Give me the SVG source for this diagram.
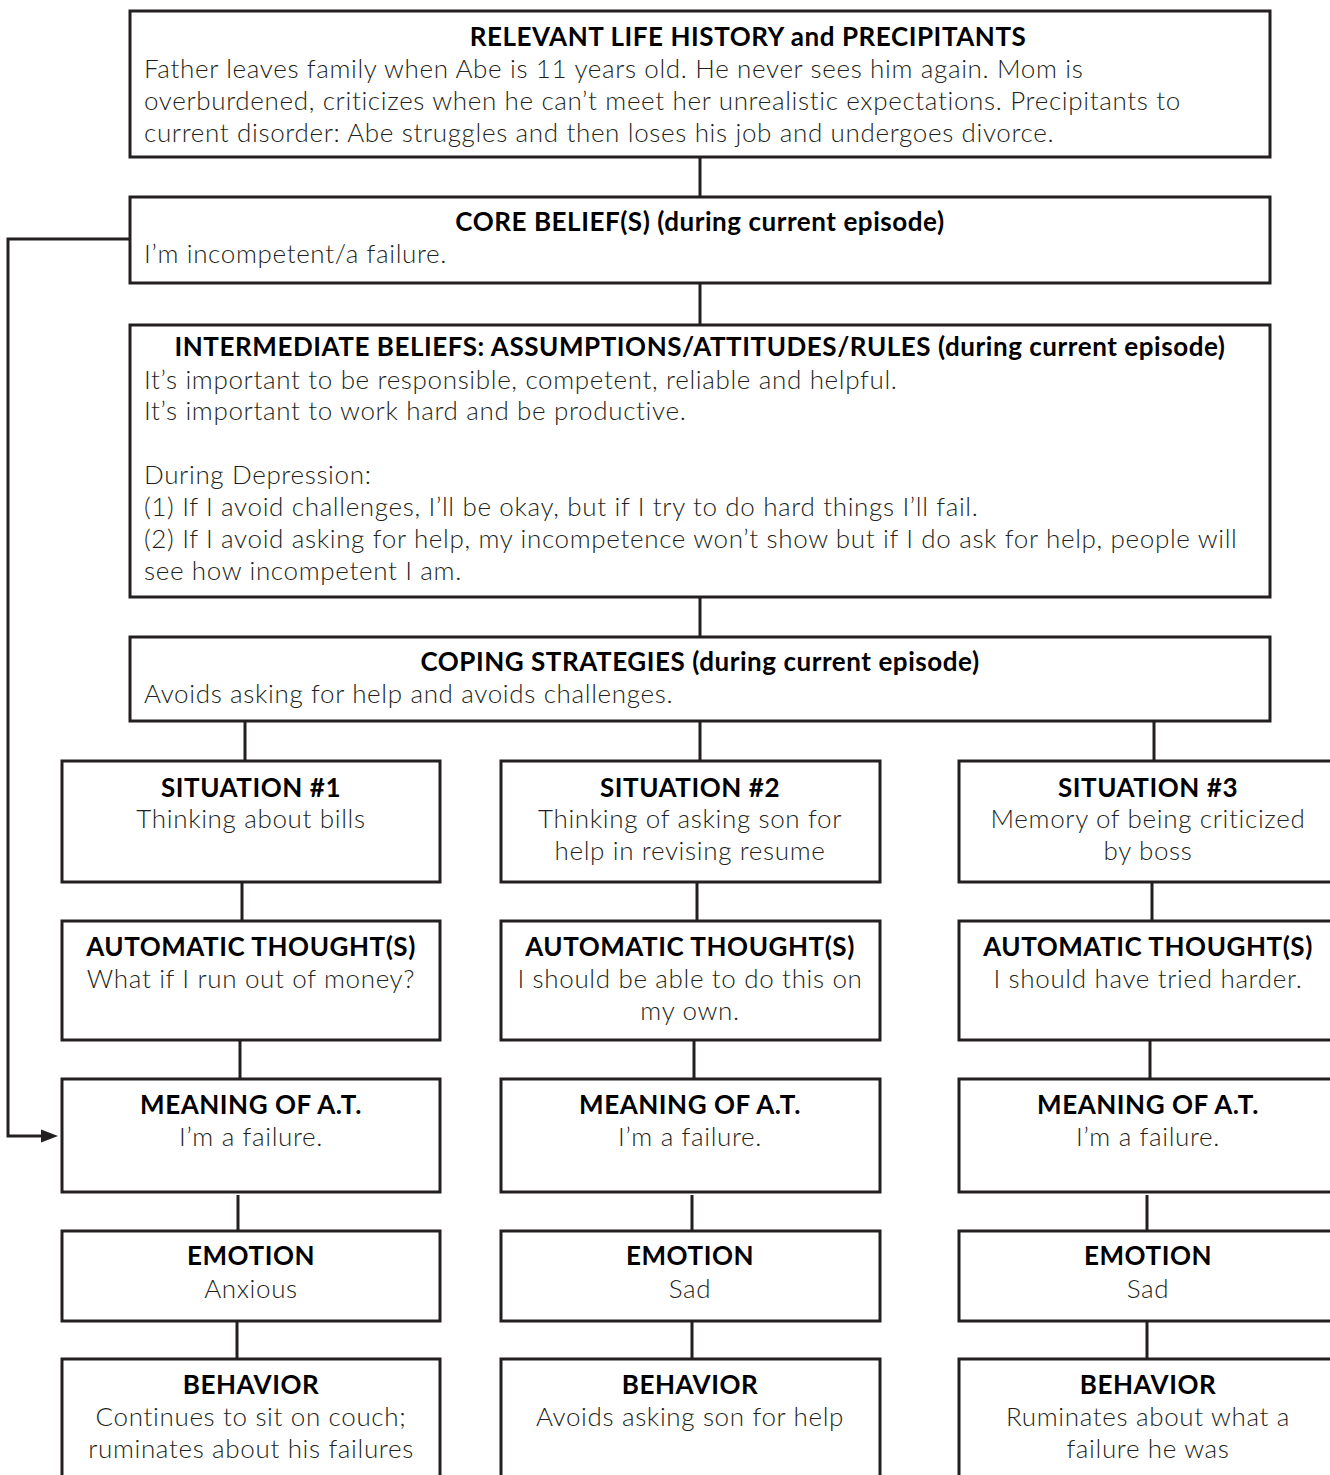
<svg xmlns="http://www.w3.org/2000/svg" width="1330" height="1475" viewBox="0 0 1330 1475">
<style>
.box{fill:#fff;stroke:#231f20;stroke-width:3}
.ln{fill:none;stroke:#231f20;stroke-width:3}
.t{font-family:Lato,"Open Sans","Liberation Sans",sans-serif;font-size:26px;font-weight:700;letter-spacing:0.55px;fill:#000}
.b{font-family:Lato,"Open Sans","Liberation Sans",sans-serif;font-size:26px;font-weight:300;letter-spacing:0.65px;fill:#231f20}
.c{text-anchor:middle}
</style>
<defs>
<marker id="ah" markerWidth="17" markerHeight="13" refX="17" refY="6.5" orient="auto" markerUnits="userSpaceOnUse" viewBox="0 0 17 13">
<path d="M0,0 L17,6.5 L0,13 z" fill="#231f20"/>
</marker>
</defs>
<g id="connectors">
<line class="ln" x1="700" y1="157" x2="700" y2="197"/>
<line class="ln" x1="700" y1="283" x2="700" y2="325"/>
<line class="ln" x1="700" y1="597" x2="700" y2="637"/>
<line class="ln" x1="245" y1="721" x2="245" y2="761"/>
<line class="ln" x1="700" y1="721" x2="700" y2="761"/>
<line class="ln" x1="1154" y1="721" x2="1154" y2="761"/>
<line class="ln" x1="242" y1="882" x2="242" y2="921"/>
<line class="ln" x1="697" y1="882" x2="697" y2="921"/>
<line class="ln" x1="1152" y1="882" x2="1152" y2="921"/>
<line class="ln" x1="240" y1="1040" x2="240" y2="1079"/>
<line class="ln" x1="694" y1="1040" x2="694" y2="1079"/>
<line class="ln" x1="1150" y1="1040" x2="1150" y2="1079"/>
<line class="ln" x1="238" y1="1195" x2="238" y2="1231"/>
<line class="ln" x1="692" y1="1195" x2="692" y2="1231"/>
<line class="ln" x1="1147" y1="1195" x2="1147" y2="1231"/>
<line class="ln" x1="237" y1="1321" x2="237" y2="1359"/>
<line class="ln" x1="692" y1="1321" x2="692" y2="1359"/>
<line class="ln" x1="1147" y1="1321" x2="1147" y2="1359"/>
<path class="ln" d="M130,239 H8 V1136 H45"/>
<path d="M41,1129.5 L58,1136 L41,1142.5 z" fill="#231f20"/>
</g>
<g id="life-history">
<rect class="box" x="130" y="11" width="1140" height="146"/>
<text class="t c" x="748" y="46">RELEVANT LIFE HISTORY and PRECIPITANTS</text>
<text class="b" x="144" y="78">Father leaves family when Abe is 11 years old. He never sees him again. Mom is</text>
<text class="b" x="144" y="110">overburdened, criticizes when he can’t meet her unrealistic expectations. Precipitants to</text>
<text class="b" x="144" y="142">current disorder: Abe struggles and then loses his job and undergoes divorce.</text>
</g>
<g id="core-beliefs">
<rect class="box" x="130" y="197" width="1140" height="86"/>
<text class="t c" x="700" y="231">CORE BELIEF(S) (during current episode)</text>
<text class="b" x="144" y="263">I’m incompetent/a failure.</text>
</g>
<g id="intermediate-beliefs">
<rect class="box" x="130" y="325" width="1140" height="272"/>
<text class="t c" x="700" y="356">INTERMEDIATE BELIEFS: ASSUMPTIONS/ATTITUDES/RULES (during current episode)</text>
<text class="b" x="144" y="389">It’s important to be responsible, competent, reliable and helpful.</text>
<text class="b" x="144" y="420">It’s important to work hard and be productive.</text>
<text class="b" x="144" y="484">During Depression:</text>
<text class="b" x="144" y="516">(1) If I avoid challenges, I’ll be okay, but if I try to do hard things I’ll fail.</text>
<text class="b" x="144" y="548">(2) If I avoid asking for help, my incompetence won’t show but if I do ask for help, people will</text>
<text class="b" x="144" y="580">see how incompetent I am.</text>
</g>
<g id="coping-strategies">
<rect class="box" x="130" y="637" width="1140" height="84"/>
<text class="t c" x="700" y="671">COPING STRATEGIES (during current episode)</text>
<text class="b" x="144" y="703">Avoids asking for help and avoids challenges.</text>
</g>
<g id="situation-1">
<rect class="box" x="62" y="761" width="378" height="121"/>
<text class="t c" x="251" y="797">SITUATION #1</text>
<text class="b c" x="251" y="828">Thinking about bills</text>
</g>
<g id="situation-2">
<rect class="box" x="501" y="761" width="379" height="121"/>
<text class="t c" x="690" y="797">SITUATION #2</text>
<text class="b c" x="690" y="828">Thinking of asking son for</text>
<text class="b c" x="690" y="860">help in revising resume</text>
</g>
<g id="situation-3">
<rect class="box" x="959" y="761" width="380" height="121"/>
<text class="t c" x="1148" y="797">SITUATION #3</text>
<text class="b c" x="1148" y="828">Memory of being criticized</text>
<text class="b c" x="1148" y="860">by boss</text>
</g>
<g id="thought-1">
<rect class="box" x="62" y="921" width="378" height="119"/>
<text class="t c" x="251" y="956">AUTOMATIC THOUGHT(S)</text>
<text class="b c" x="251" y="988">What if I run out of money?</text>
</g>
<g id="thought-2">
<rect class="box" x="501" y="921" width="379" height="119"/>
<text class="t c" x="690" y="956">AUTOMATIC THOUGHT(S)</text>
<text class="b c" x="690" y="988">I should be able to do this on</text>
<text class="b c" x="690" y="1020">my own.</text>
</g>
<g id="thought-3">
<rect class="box" x="959" y="921" width="380" height="119"/>
<text class="t c" x="1148" y="956">AUTOMATIC THOUGHT(S)</text>
<text class="b c" x="1148" y="988">I should have tried harder.</text>
</g>
<g id="meaning-1">
<rect class="box" x="62" y="1079" width="378" height="113"/>
<text class="t c" x="251" y="1114">MEANING OF A.T.</text>
<text class="b c" x="251" y="1146">I’m a failure.</text>
</g>
<g id="meaning-2">
<rect class="box" x="501" y="1079" width="379" height="113"/>
<text class="t c" x="690" y="1114">MEANING OF A.T.</text>
<text class="b c" x="690" y="1146">I’m a failure.</text>
</g>
<g id="meaning-3">
<rect class="box" x="959" y="1079" width="380" height="113"/>
<text class="t c" x="1148" y="1114">MEANING OF A.T.</text>
<text class="b c" x="1148" y="1146">I’m a failure.</text>
</g>
<g id="emotion-1">
<rect class="box" x="62" y="1231" width="378" height="90"/>
<text class="t c" x="251" y="1265">EMOTION</text>
<text class="b c" x="251" y="1298">Anxious</text>
</g>
<g id="emotion-2">
<rect class="box" x="501" y="1231" width="379" height="90"/>
<text class="t c" x="690" y="1265">EMOTION</text>
<text class="b c" x="690" y="1298">Sad</text>
</g>
<g id="emotion-3">
<rect class="box" x="959" y="1231" width="380" height="90"/>
<text class="t c" x="1148" y="1265">EMOTION</text>
<text class="b c" x="1148" y="1298">Sad</text>
</g>
<g id="behavior-1">
<rect class="box" x="62" y="1359" width="378" height="130"/>
<text class="t c" x="251" y="1394">BEHAVIOR</text>
<text class="b c" x="251" y="1426">Continues to sit on couch;</text>
<text class="b c" x="251" y="1458">ruminates about his failures</text>
</g>
<g id="behavior-2">
<rect class="box" x="501" y="1359" width="379" height="130"/>
<text class="t c" x="690" y="1394">BEHAVIOR</text>
<text class="b c" x="690" y="1426">Avoids asking son for help</text>
</g>
<g id="behavior-3">
<rect class="box" x="959" y="1359" width="380" height="130"/>
<text class="t c" x="1148" y="1394">BEHAVIOR</text>
<text class="b c" x="1148" y="1426">Ruminates about what a</text>
<text class="b c" x="1148" y="1458">failure he was</text>
</g>
</svg>
